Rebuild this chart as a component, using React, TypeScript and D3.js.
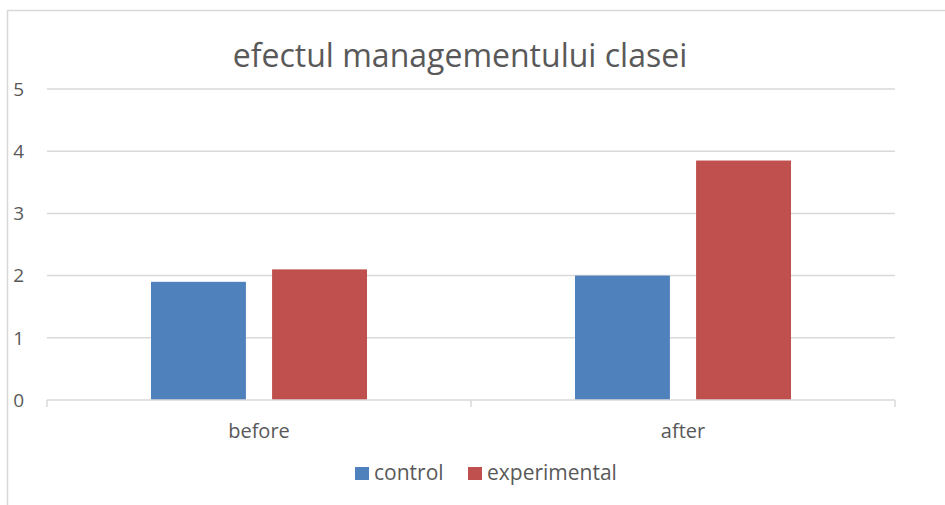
import React from "react";
import * as d3 from "d3";

const categories = ["before", "after"];
const seriesNames = ["control", "experimental"];
const controlValues = [1.9, 2.0];
const experimentalValues = [2.1, 3.85];
const yTicks = [0, 1, 2, 3, 4, 5];
const colors = ["#4f81bd", "#c0504d"];
const title = "efectul managementului clasei";

export default function App() {
  const W = 945, H = 505;
  const left = 47, right = 895, top = 89, bottom = 400;
  const y = d3.scaleLinear().domain([0, 5]).range([bottom, top]);
  const x0 = d3.scaleBand().domain(categories).range([left, right]).paddingInner(0).paddingOuter(0);
  const x1 = d3.scaleBand().domain(seriesNames).range([104, x0.bandwidth() - 104]).paddingInner(0.216);
  const series = [controlValues, experimentalValues];
  const font = "'Open Sans', 'Noto Sans', sans-serif";
  const textColor = "#595959";
  const bounds = [left, ...categories.map((c) => (x0(c) as number) + x0.bandwidth())];
  return (
    <svg width={W} height={H} style={{ position: "absolute", left: 0, top: 0, background: "#fff" }} fontFamily={font}>
      <rect x={7.5} y={10.5} width={W + 20} height={H + 20} fill="#fff" stroke="#d9d9d9" strokeWidth={1.5} />
      <text x={460} y={67} textAnchor="middle" fontSize={32} fill={textColor}>{title}</text>
      {yTicks.map((t) => (
        <g key={t}>
          {t > 0 && <line x1={left} x2={right} y1={y(t)} y2={y(t)} stroke="#d9d9d9" strokeWidth={1.5} />}
          <text x={24} y={y(t)} dy="0.36em" textAnchor="end" fontSize={19} fill={textColor}>{t}</text>
        </g>
      ))}
      {categories.map((c, ci) =>
        series.map((vals, si) => {
          const bx = (x0(c) as number) + (x1(seriesNames[si]) as number);
          return (
            <rect key={c + si} x={bx} y={y(vals[ci])} width={x1.bandwidth()} height={y(0) - y(vals[ci])} fill={colors[si]} />
          );
        })
      )}
      <line x1={left} x2={right} y1={bottom} y2={bottom} stroke="#d9d9d9" strokeWidth={1.5} />
      {bounds.map((b, i) => (
        <line key={i} x1={b} x2={b} y1={bottom} y2={bottom + 7} stroke="#d9d9d9" strokeWidth={1.5} />
      ))}
      {categories.map((c) => (
        <text key={c} x={(x0(c) as number) + x0.bandwidth() / 2} y={438} textAnchor="middle" fontSize={20} fill={textColor}>{c}</text>
      ))}
      <g>
        <rect x={355} y={467} width={14} height={13} fill={colors[0]} />
        <text x={374} y={480} fontSize={21} fill={textColor}>{seriesNames[0]}</text>
        <rect x={468} y={467} width={14} height={13} fill={colors[1]} />
        <text x={487} y={480} fontSize={21} fill={textColor}>{seriesNames[1]}</text>
      </g>
    </svg>
  );
}
